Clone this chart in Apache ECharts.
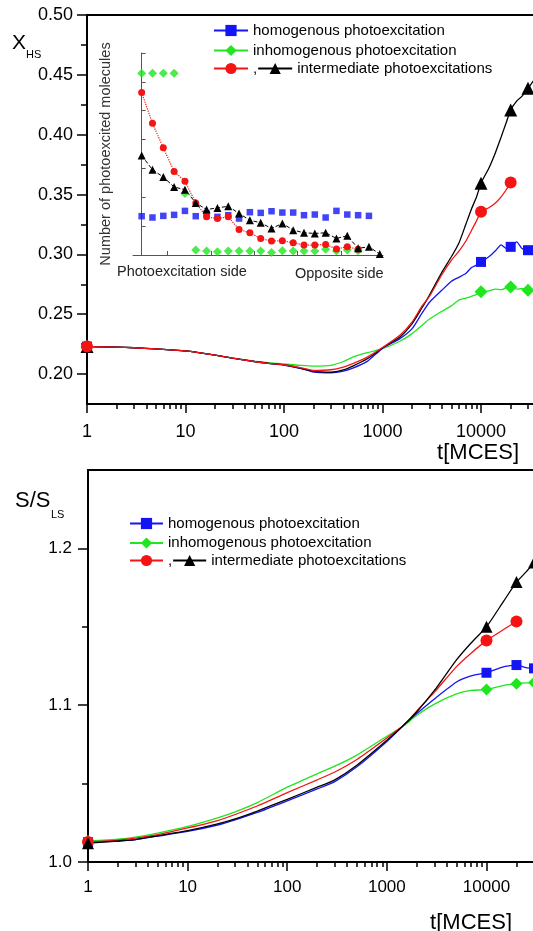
<!doctype html>
<html>
<head>
<meta charset="utf-8">
<title>X_HS and S/S_LS versus t[MCES]</title>
<style>
  html, body { margin: 0; padding: 0; background: #fff; }
  #main { width: 533px; height: 931px; }
</style>
</head>
<body>
<div id="main"></div>
<script src="https://cdn.jsdelivr.net/npm/echarts@6/dist/echarts.min.js"></script>
<script>
// ---- upper panel: high-spin fraction X_HS vs time ----
var tTop = [1, 2, 3, 5, 7, 10, 20, 30, 50, 70, 100,
  150, 200, 300, 400, 500, 700,
  1000, 1500, 2000, 2500, 3000,
  4000, 5000, 6000, 7000, 8000, 9000,
  10000, 12000, 14000, 16000, 18000, 20000,
  23000, 26000, 30000, 34000];
var xhsBlue = [.223, .2225, .222, .221, .2202, .2193, .2158, .2134, .2105, .209, .2075,
  .2045, .2017, .2011, .2025, .205, .2106,
  .2215, .2296, .238, .2505, .260,
  .270, .2775, .281, .284, .289, .291,
  .2937, .298, .303, .308, .305, .3063,
  .3105, .305, .3035, .303];
var xhsGreen = [.223, .2225, .222, .221, .2202, .2193, .2158, .2134, .2108, .2095, .2085,
  .2072, .2067, .2073, .2105, .2142, .2179,
  .2212, .2274, .2338, .2405, .246,
  .2525, .257, .262, .2635, .265, .2665,
  .2687, .2695, .271, .2705, .272, .2728,
  .271, .2715, .270, .2705];
var xhsRed = [.223, .2225, .222, .221, .2202, .2193, .2158, .2134, .2105, .209, .2078,
  .2052, .203, .2036, .2058, .2087, .2142,
  .2222, .2324, .2436, .2565, .265,
  .283, .295, .303, .311, .32, .328,
  .3356, .339, .343, .348, .354, .360,
  null, null, null, null];
var xhsBlack = [.223, .2225, .222, .221, .2202, .2193, .2158, .2134, .2105, .209, .2078,
  .2048, .2022, .2016, .2035, .2067, .2128,
  .222, .231, .2422, .255, .266,
  .285, .298, .31, .325, .338, .348,
  .3595, .372, .385, .398, .41, .4206,
  .428, .432, .4387, .445];

// ---- lower panel: S/S_LS vs time ----
var tBot = [1, 2, 3, 5, 10, 20, 30, 50, 100, 200, 300, 500,
  1000, 1500, 2000, 3000, 5000, 7000, 10000, 15000, 20000, 25000, 30000];
var sBlue = [1.0126, 1.0134, 1.0143, 1.0165, 1.0195, 1.0236, 1.0269, 1.0316, 1.039, 1.0466, 1.0513, 1.0607,
  1.0769, 1.0877, 1.0947, 1.104, 1.1148, 1.1187, 1.1207, 1.1246, 1.1256, 1.124, 1.1235];
var sGreen = [1.0134, 1.0145, 1.0158, 1.0184, 1.0227, 1.0282, 1.032, 1.0379, 1.0477, 1.0563, 1.0611, 1.0682,
  1.0802, 1.0872, 1.0936, 1.1007, 1.1072, 1.1094, 1.110, 1.1127, 1.1137, 1.1142, 1.1144];
var sRed = [1.0128, 1.014, 1.0152, 1.0175, 1.0217, 1.0264, 1.0303, 1.0357, 1.0442, 1.0524, 1.0574, 1.0654,
  1.0791, 1.0877, 1.0964, 1.1083, 1.1246, 1.1332, 1.1412, 1.1484, 1.1534, null, null];
var sBlack = [1.012, 1.0134, 1.0143, 1.0167, 1.02, 1.0243, 1.0275, 1.0325, 1.04, 1.0477, 1.0524, 1.0617,
  1.0776, 1.0877, 1.0958, 1.1094, 1.1289, 1.1397, 1.150, 1.1667, 1.1785, 1.185, 1.191];

// times carrying a symbol
var markTimes = [1, 10000, 20000, 30000];

// ---- inset: photoexcited molecules per layer ----
var insetBlue = [1.345, 1.299, 1.356, 1.391, 1.529, 1.345, 1.437, 1.322, 1.379, 1.264, 1.483,
  1.46, 1.517, 1.471, 1.471, 1.379, 1.402, 1.299, 1.529, 1.402, 1.379, 1.356];
var insetGreen = [6.3, 6.3, 6.3, 6.3, 2.13, 0.17, 0.14, 0.11, 0.14, 0.14, 0.14,
  0.14, 0.09, 0.15, 0.14, 0.14, 0.14, 0.2, 0.14, 0.17, 0.15];
var insetRed = [5.632, 4.563, 3.713, 2.897, 2.552, 1.805, 1.322, 1.264, 1.322, 0.885, 0.77,
  0.575, 0.483, 0.494, 0.425, 0.345, 0.345, 0.368, 0.207, 0.287, 0.195];
var insetBlack = [3.448, 2.954, 2.701, 2.356, 2.264, 1.805, 1.575, 1.632, 1.69, 1.437, 1.207,
  1.115, 0.92, 1.092, 0.862, 0.77, 0.747, 0.77, 0.575, 0.667, 0.23, 0.287, 0.034];

var xMajor = [1, 10, 100, 1000, 10000];
var xMinor = [];
for (var d = 1; d <= 10000; d *= 10) {
  for (var k = 2; k <= 9; k++) xMinor.push(k * d);
}

var FONT = '"Liberation Sans", Arial, sans-serif';
var BLUE = '#1414f5', GREEN = '#1fe61f', RED = '#f51414', BLACK = '#000';

function pts(t, y) {
  var out = [];
  for (var i = 0; i < t.length; i++) {
    if (y[i] == null) continue;
    var p = { value: [t[i], y[i]] };
    if (markTimes.indexOf(t[i]) < 0) p.symbol = 'none';
    out.push(p);
  }
  return out;
}
function idx(y) {
  return y.map(function (v, i) { return [i, v]; });
}

function logAxis(grid, max, fs, margin) {
  return [{
    type: 'log', gridIndex: grid, position: 'bottom', min: 1, max: max,
    axisLine: { lineStyle: { color: '#000', width: 2 } },
    axisTick: { customValues: xMajor, length: 9, lineStyle: { color: '#000', width: 1.5 } },
    axisLabel: { customValues: xMajor, color: '#000', fontSize: fs, fontFamily: FONT, margin: margin,
      formatter: function (v) { return String(Math.round(v)); } },
    splitLine: { show: false }
  }, {
    type: 'log', gridIndex: grid, position: 'bottom', min: 1, max: max,
    axisLine: { show: false },
    axisTick: { customValues: xMinor, length: 5, lineStyle: { color: '#000', width: 1.5 } },
    axisLabel: { show: false }, splitLine: { show: false }
  }, {
    type: 'value', gridIndex: grid, position: 'top', min: 0, max: 1,
    axisLine: { lineStyle: { color: '#000', width: 2 } },
    axisTick: { show: false }, axisLabel: { show: false }, splitLine: { show: false }
  }];
}
function valAxis(grid, min, max, major, minor, digits, fs, margin) {
  return [{
    type: 'value', gridIndex: grid, min: min, max: max,
    axisLine: { show: true, lineStyle: { color: '#000', width: 2 } },
    axisTick: { show: true, customValues: major, length: 10, lineStyle: { color: '#000', width: 1.5 } },
    axisLabel: { customValues: major, color: '#000', fontSize: fs, fontFamily: FONT, margin: margin,
      formatter: function (v) { return v.toFixed(digits); } },
    splitLine: { show: false }
  }, {
    type: 'value', gridIndex: grid, min: min, max: max, position: 'left',
    axisLine: { show: false },
    axisTick: { show: true, customValues: minor, length: 6, lineStyle: { color: '#000', width: 1.5 } },
    axisLabel: { show: false }, splitLine: { show: false }
  }];
}

var xAxes = [].concat(logAxis(0, 33700, 18, 19));          // 0,1,2
xAxes.push({                                                 // 3: inset
  type: 'value', gridIndex: 1, min: -0.8, max: 22.3,
  axisLine: { lineStyle: { color: '#555', width: 1 } },
  axisTick: { inside: true, customValues: [2.4, 6.4, 10.4, 14.4, 18.4], length: 4, lineStyle: { color: '#555' } },
  axisLabel: { show: false }, splitLine: { show: false }
});
xAxes = xAxes.concat(logAxis(2, 29300, 17, 17));            // 4,5,6

var yAxes = [].concat(valAxis(0, 0.175, 0.5,
  [0.2, 0.25, 0.3, 0.35, 0.4, 0.45, 0.5], [0.225, 0.275, 0.325, 0.375, 0.425, 0.475], 2, 18, 14)); // 0,1
yAxes.push({                                                 // 2: inset
  type: 'value', gridIndex: 1, min: 0, max: 7, interval: 1,
  name: 'Number of photoexcited molecules', nameLocation: 'middle', nameGap: 20, nameRotate: 90,
  nameTextStyle: { color: '#333', fontSize: 14.5, fontFamily: FONT },
  axisLine: { show: true, lineStyle: { color: '#555', width: 1 } },
  axisTick: { show: true, inside: true, length: 4, lineStyle: { color: '#555' } },
  axisLabel: { show: false }, splitLine: { show: false }
});
yAxes = yAxes.concat(valAxis(2, 1.0, 1.25, [1.0, 1.1, 1.2], [1.05, 1.15], 1, 17, 16)); // 3,4

function mainSeries(name, t, y, color, symbol, size, xi, yi) {
  return {
    name: name, type: 'line', xAxisIndex: xi, yAxisIndex: yi,
    data: pts(t, y), symbol: symbol, symbolSize: size, showSymbol: true,
    smooth: 0.2, clip: false,
    lineStyle: { color: color, width: 1.3 }, itemStyle: { color: color },
    emphasis: { disabled: true }, z: 3
  };
}

var series = [
  mainSeries('inhomogenous photoexcitation', tTop, xhsGreen, GREEN, 'diamond', 13, 0, 0),
  mainSeries('homogenous photoexcitation', tTop, xhsBlue, BLUE, 'rect', 10, 0, 0),
  mainSeries('intermediate photoexcitations', tTop, xhsBlack, BLACK, 'triangle', 13, 0, 0),
  mainSeries('intermediate (red)', tTop, xhsRed, RED, 'circle', 12, 0, 0),

  { name: 'inset homogenous', type: 'scatter', xAxisIndex: 3, yAxisIndex: 2, data: idx(insetBlue),
    symbol: 'rect', symbolSize: 6.5, itemStyle: { color: BLUE }, z: 4 },
  { name: 'inset inhomogenous', type: 'scatter', xAxisIndex: 3, yAxisIndex: 2, data: idx(insetGreen),
    symbol: 'diamond', symbolSize: 9, itemStyle: { color: GREEN }, z: 4 },
  { name: 'inset red', type: 'line', xAxisIndex: 3, yAxisIndex: 2, data: idx(insetRed),
    symbol: 'circle', symbolSize: 7, lineStyle: { color: RED, width: 1.2, type: 'dotted' },
    itemStyle: { color: RED }, z: 4 },
  { name: 'inset black', type: 'line', xAxisIndex: 3, yAxisIndex: 2, data: idx(insetBlack),
    symbol: 'triangle', symbolSize: 8, lineStyle: { color: BLACK, width: 1, type: [4, 2] },
    itemStyle: { color: BLACK }, z: 4 },

  mainSeries('inhomogenous photoexcitation', tBot, sGreen, GREEN, 'diamond', 12, 4, 3),
  mainSeries('homogenous photoexcitation', tBot, sBlue, BLUE, 'rect', 10, 4, 3),
  mainSeries('intermediate (red)', tBot, sRed, RED, 'circle', 12, 4, 3),
  mainSeries('intermediate photoexcitations', tBot, sBlack, BLACK, 'triangle', 12, 4, 3)
];

function legendRow(names, left, top, orient, gap, width) {
  return {
    data: names, orient: orient, left: left, top: top, padding: 0,
    itemWidth: width, itemHeight: 14, itemGap: gap, selectedMode: false,
    textStyle: { color: '#000', fontSize: 15, fontFamily: FONT, lineHeight: 14 },
    formatter: function (n) { return n === 'intermediate (red)' ? ',' : n; }
  };
}

var chart = echarts.init(document.getElementById('main'), null, { renderer: 'canvas' });
chart.setOption({
  backgroundColor: '#fff',
  animation: false,
  grid: [
    { left: 87, top: 15, right: 0, bottom: 527 },
    { left: 133, top: 53, width: 250, height: 202 },
    { left: 88, top: 470, right: 0, bottom: 69 }
  ],
  xAxis: xAxes,
  yAxis: yAxes,
  legend: [
    legendRow(['homogenous photoexcitation', 'inhomogenous photoexcitation'], 213, 23, 'vertical', 5, 34),
    legendRow(['intermediate (red)', 'intermediate photoexcitations'], 213, 61, 'horizontal', 0, 34),
    legendRow(['homogenous photoexcitation', 'inhomogenous photoexcitation'], 129, 516, 'vertical', 4.5, 33),
    legendRow(['intermediate (red)', 'intermediate photoexcitations'], 129, 553, 'horizontal', 0, 33)
  ],
  graphic: [
    { type: 'text', style: { text: 'X', x: 12, y: 43, font: '21px ' + FONT, fill: '#000', textVerticalAlign: 'middle' } },
    { type: 'text', style: { text: 'HS', x: 26, y: 55, font: '11px ' + FONT, fill: '#000', textVerticalAlign: 'middle' } },
    { type: 'text', style: { text: 't[MCES]', x: 519, y: 453, font: '22px ' + FONT, fill: '#000', textAlign: 'right', textVerticalAlign: 'middle' } },
    { type: 'text', style: { text: 'Photoexcitation side', x: 117, y: 272, font: '14.5px ' + FONT, fill: '#222', textVerticalAlign: 'middle' } },
    { type: 'text', style: { text: 'Opposite side', x: 295, y: 274, font: '14.5px ' + FONT, fill: '#222', textVerticalAlign: 'middle' } },
    { type: 'text', style: { text: 'S/S', x: 15, y: 501, font: '22px ' + FONT, fill: '#000', textVerticalAlign: 'middle' } },
    { type: 'text', style: { text: 'LS', x: 51, y: 515, font: '11px ' + FONT, fill: '#000', textVerticalAlign: 'middle' } },
    { type: 'text', style: { text: 't[MCES]', x: 512, y: 923, font: '22px ' + FONT, fill: '#000', textAlign: 'right', textVerticalAlign: 'middle' } }
  ],
  series: series
});
</script>
</body>
</html>
